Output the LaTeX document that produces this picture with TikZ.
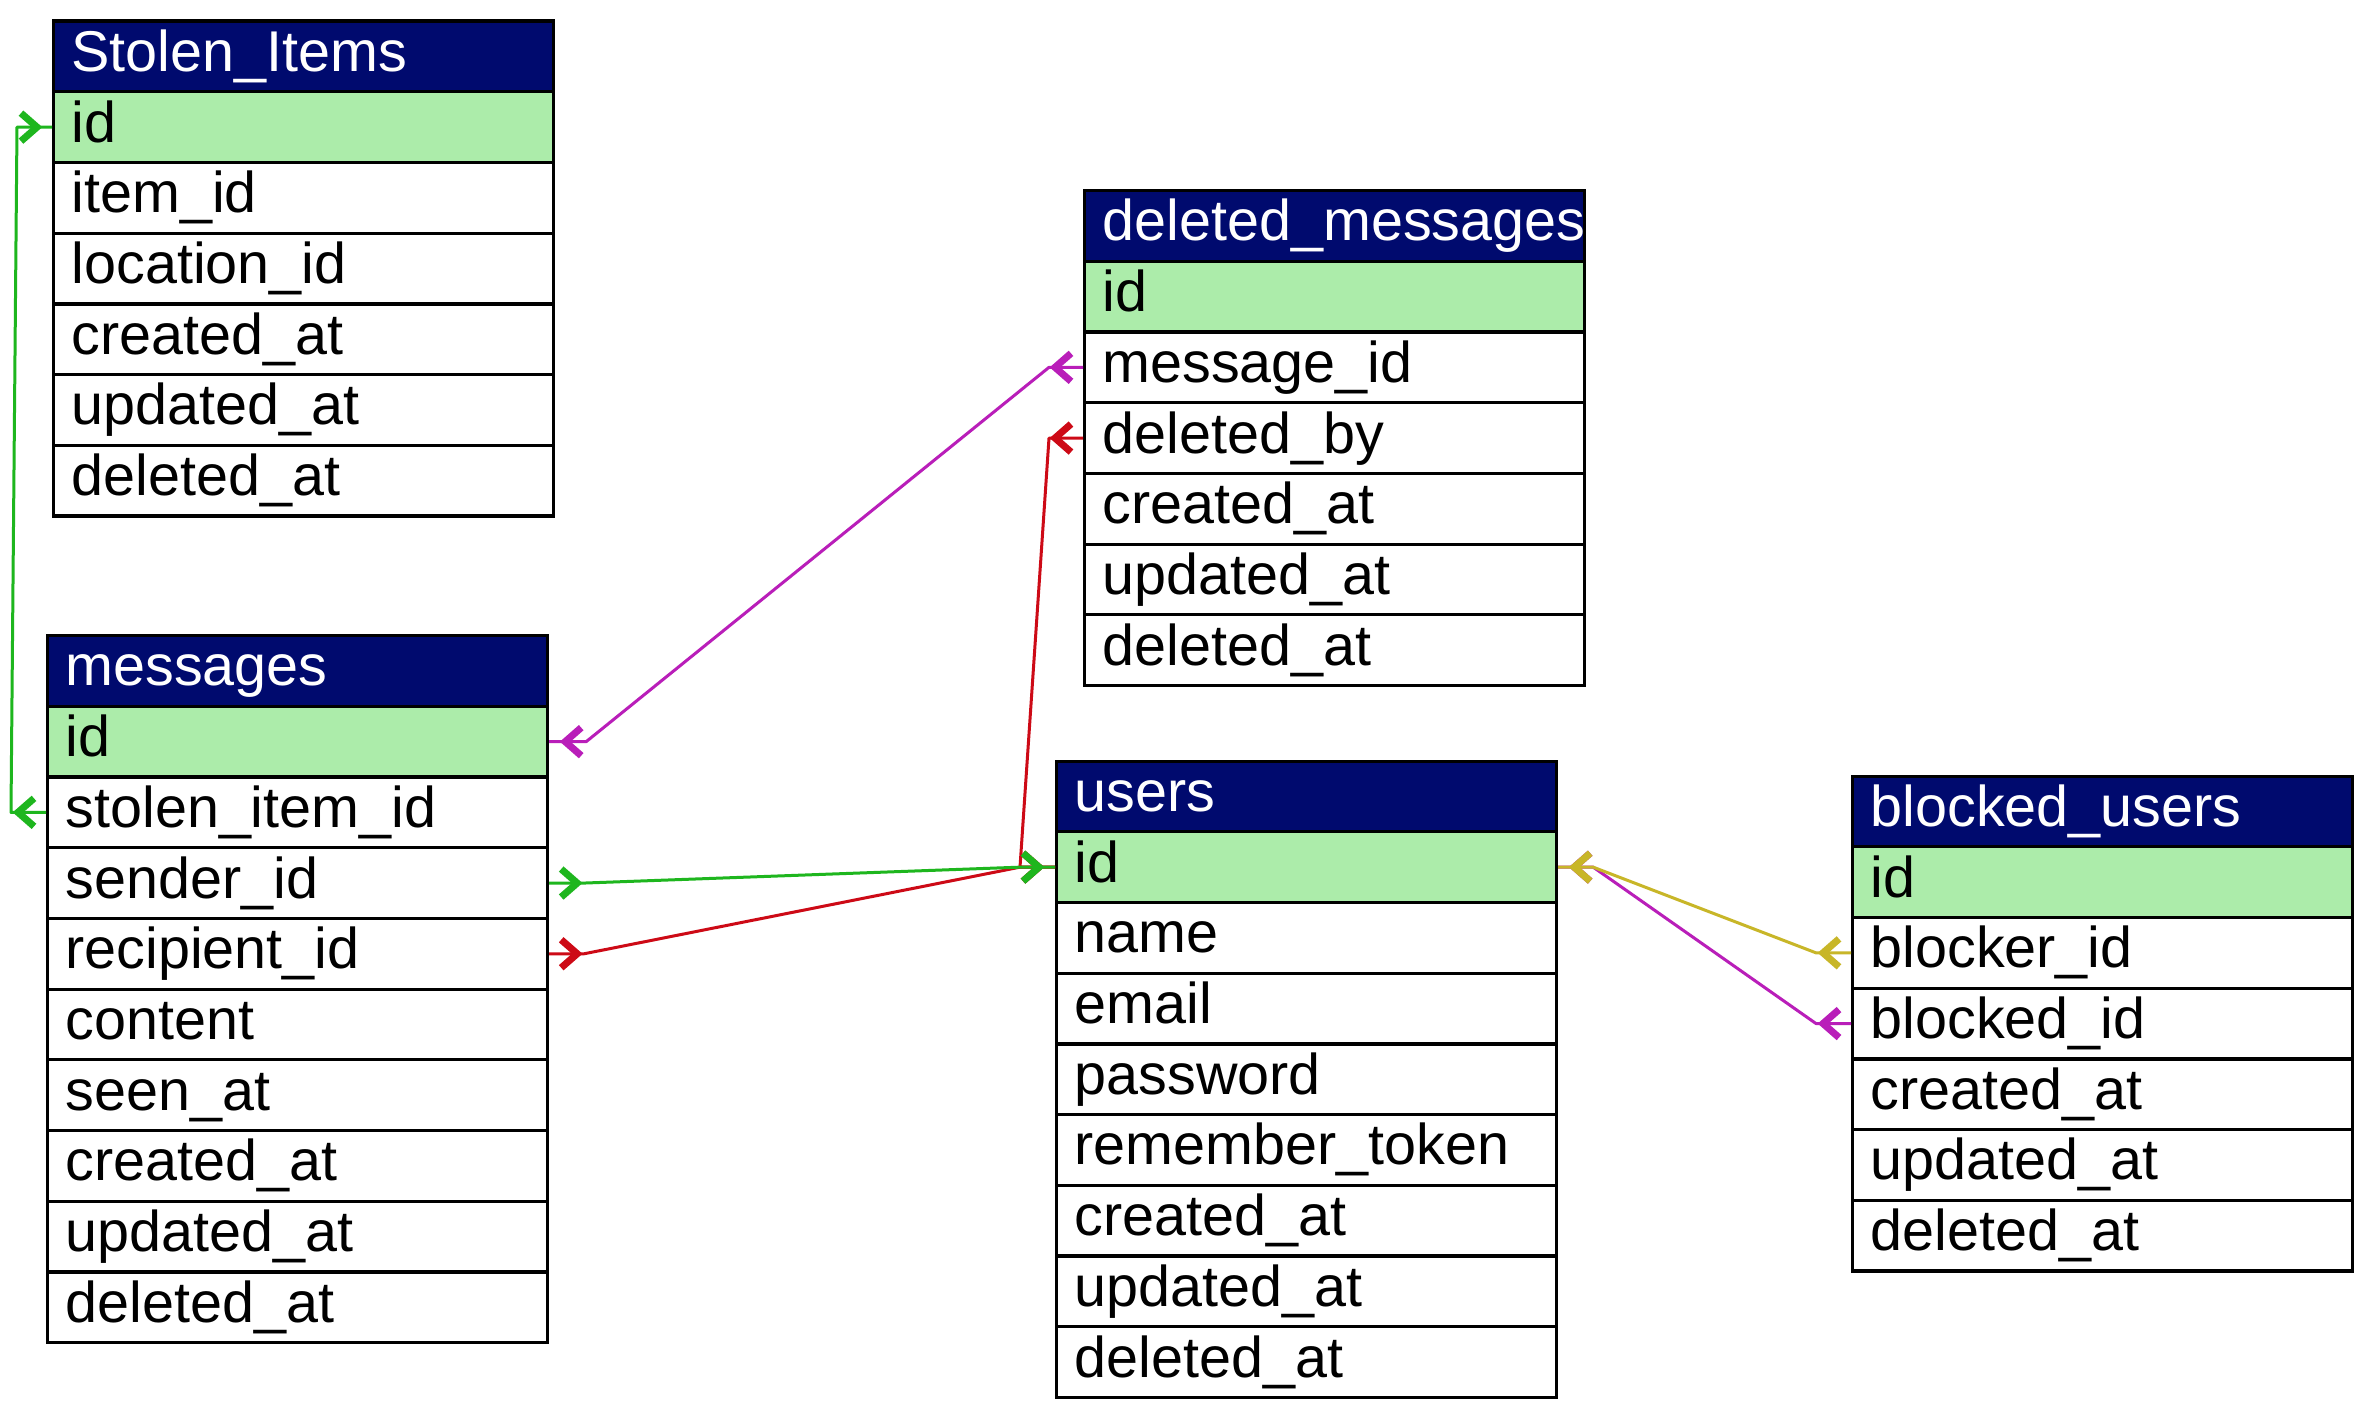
\documentclass[tikz,border=0pt]{standalone}
\usepackage{fontspec}
\setmainfont{Liberation Sans}
\usetikzlibrary{calc}
\definecolor{hdrblue}{RGB}{0,10,110}
\definecolor{pkgreen}{RGB}{172,236,170}
\definecolor{lgreen}{RGB}{30,182,30}
\definecolor{lred}{RGB}{205,10,22}
\definecolor{lmag}{RGB}{185,30,185}
\definecolor{lyel}{RGB}{200,182,40}
\tikzset{
  cell/.style={draw=black, line width=3.2pt, minimum width=500pt, minimum height=70.7pt,
    text width=464pt, inner xsep=18pt, inner ysep=0pt, align=left,
    text height=40pt, text depth=10pt, anchor=north west,
    font=\fontsize{57.5}{60}\selectfont},
  hdrcell/.style={cell, fill=hdrblue, text=white},
  pkcell/.style={cell, fill=pkgreen},
  fkcell/.style={cell, fill=white},
  conn/.style={line width=3pt, line join=round},
  chevst/.style={line width=7pt, line join=miter},
}
\newcommand\erdtable[5]{%
  \node[hdrcell] (#1-h) at (#2,#3) {\mbox{#4}};
  \node[pkcell] (#1-id) at (#2,{#3+70.7}) {\mbox{id}};
  \foreach \k/\lab [count=\i from 2] in {#5}{
    \node[fkcell] (#1-\k) at (#2,{#3+\i*70.7}) {\mbox{\lab}};
  }%
}
\newcommand\chevR[2]{\draw[chevst,#1] ($(#2)+(-16,-14)$) -- (#2) -- ($(#2)+(-16,14)$);}
\newcommand\chevL[2]{\draw[chevst,#1] ($(#2)+(16,-14)$) -- (#2) -- ($(#2)+(16,14)$);}
\begin{document}
\begin{tikzpicture}[x=1pt,y=-1pt]
\useasboundingbox (0,0) rectangle (2366,1410);
\fill[white] (0,0) rectangle (2366,1410);

\erdtable{si}{52}{19.5}{Stolen\_Items}{item/item\_id, loc/location\_id, cre/created\_at, upd/updated\_at, del/deleted\_at}
\erdtable{msg}{46}{634}{messages}{stolen/stolen\_item\_id, sender/sender\_id, recip/recipient\_id, content/content, seen/seen\_at, cre/created\_at, upd/updated\_at, del/deleted\_at}
\erdtable{dm}{1083}{189}{deleted\_messages}{msgid/message\_id, by/deleted\_by, cre/created\_at, upd/updated\_at, del/deleted\_at}
\erdtable{usr}{1055}{759.5}{users}{name/name, email/email, pw/password, tok/remember\_token, cre/created\_at, upd/updated\_at, del/deleted\_at}
\erdtable{bu}{1851}{774.5}{blocked\_users}{blocker/blocker\_id, blocked/blocked\_id, cre/created\_at, upd/updated\_at, del/deleted\_at}

% messages.stolen_item_id -> Stolen_Items.id
\coordinate (p1a) at ($(msg-stolen.west)+(-35,0)$);
\coordinate (p1b) at ($(si-id.west)+(-35,0)$);
\draw[conn,lgreen] (msg-stolen.west) -- (p1a) -- (p1b) -- (si-id.west);
\coordinate (c1a) at ($(msg-stolen.west)+(-28,0)$);
\chevL{lgreen}{c1a}
\coordinate (c1b) at ($(si-id.west)+(-15,0)$);
\chevR{lgreen}{c1b}

% deleted_messages.message_id -> messages.id
\coordinate (p2a) at ($(dm-msgid.west)+(-34,0)$);
\coordinate (p2b) at ($(msg-id.east)+(37,0)$);
\draw[conn,lmag] (dm-msgid.west) -- (p2a) -- (p2b) -- (msg-id.east);
\coordinate (c2a) at ($(dm-msgid.west)+(-28,0)$);
\chevL{lmag}{c2a}
\coordinate (c2b) at ($(msg-id.east)+(16,0)$);
\chevL{lmag}{c2b}

% users.id left port and chevron
\coordinate (pul) at ($(usr-id.west)+(-35,0)$);
\coordinate (cul) at ($(usr-id.west)+(-16,0)$);

% deleted_messages.deleted_by -> users.id
\coordinate (p3a) at ($(dm-by.west)+(-34,0)$);
\draw[conn,lred] (dm-by.west) -- (p3a) -- (pul) -- (usr-id.west);
\coordinate (c3a) at ($(dm-by.west)+(-28,0)$);
\chevL{lred}{c3a}

% messages.recipient_id -> users.id
\coordinate (p5a) at ($(msg-recip.east)+(35,0)$);
\draw[conn,lred] (msg-recip.east) -- (p5a) -- (pul) -- (usr-id.west);
\coordinate (c5a) at ($(msg-recip.east)+(28,0)$);
\chevR{lred}{c5a}
\chevR{lred}{cul}

% messages.sender_id -> users.id
\coordinate (p4a) at ($(msg-sender.east)+(35,0)$);
\draw[conn,lgreen] (msg-sender.east) -- (p4a) -- (pul) -- (usr-id.west);
\coordinate (c4a) at ($(msg-sender.east)+(28,0)$);
\chevR{lgreen}{c4a}
\chevR{lgreen}{cul}

% users.id right port and chevron
\coordinate (pur) at ($(usr-id.east)+(35,0)$);
\coordinate (cur) at ($(usr-id.east)+(16,0)$);

% blocked_users.blocked_id -> users.id
\coordinate (p7a) at ($(bu-blocked.west)+(-35,0)$);
\draw[conn,lmag] (bu-blocked.west) -- (p7a) -- (pur) -- (usr-id.east);
\coordinate (c7a) at ($(bu-blocked.west)+(-28,0)$);
\chevL{lmag}{c7a}
\chevL{lmag}{cur}

% blocked_users.blocker_id -> users.id
\coordinate (p6a) at ($(bu-blocker.west)+(-35,0)$);
\draw[conn,lyel] (bu-blocker.west) -- (p6a) -- (pur) -- (usr-id.east);
\coordinate (c6a) at ($(bu-blocker.west)+(-28,0)$);
\chevL{lyel}{c6a}
\chevL{lyel}{cur}
\end{tikzpicture}
\end{document}
